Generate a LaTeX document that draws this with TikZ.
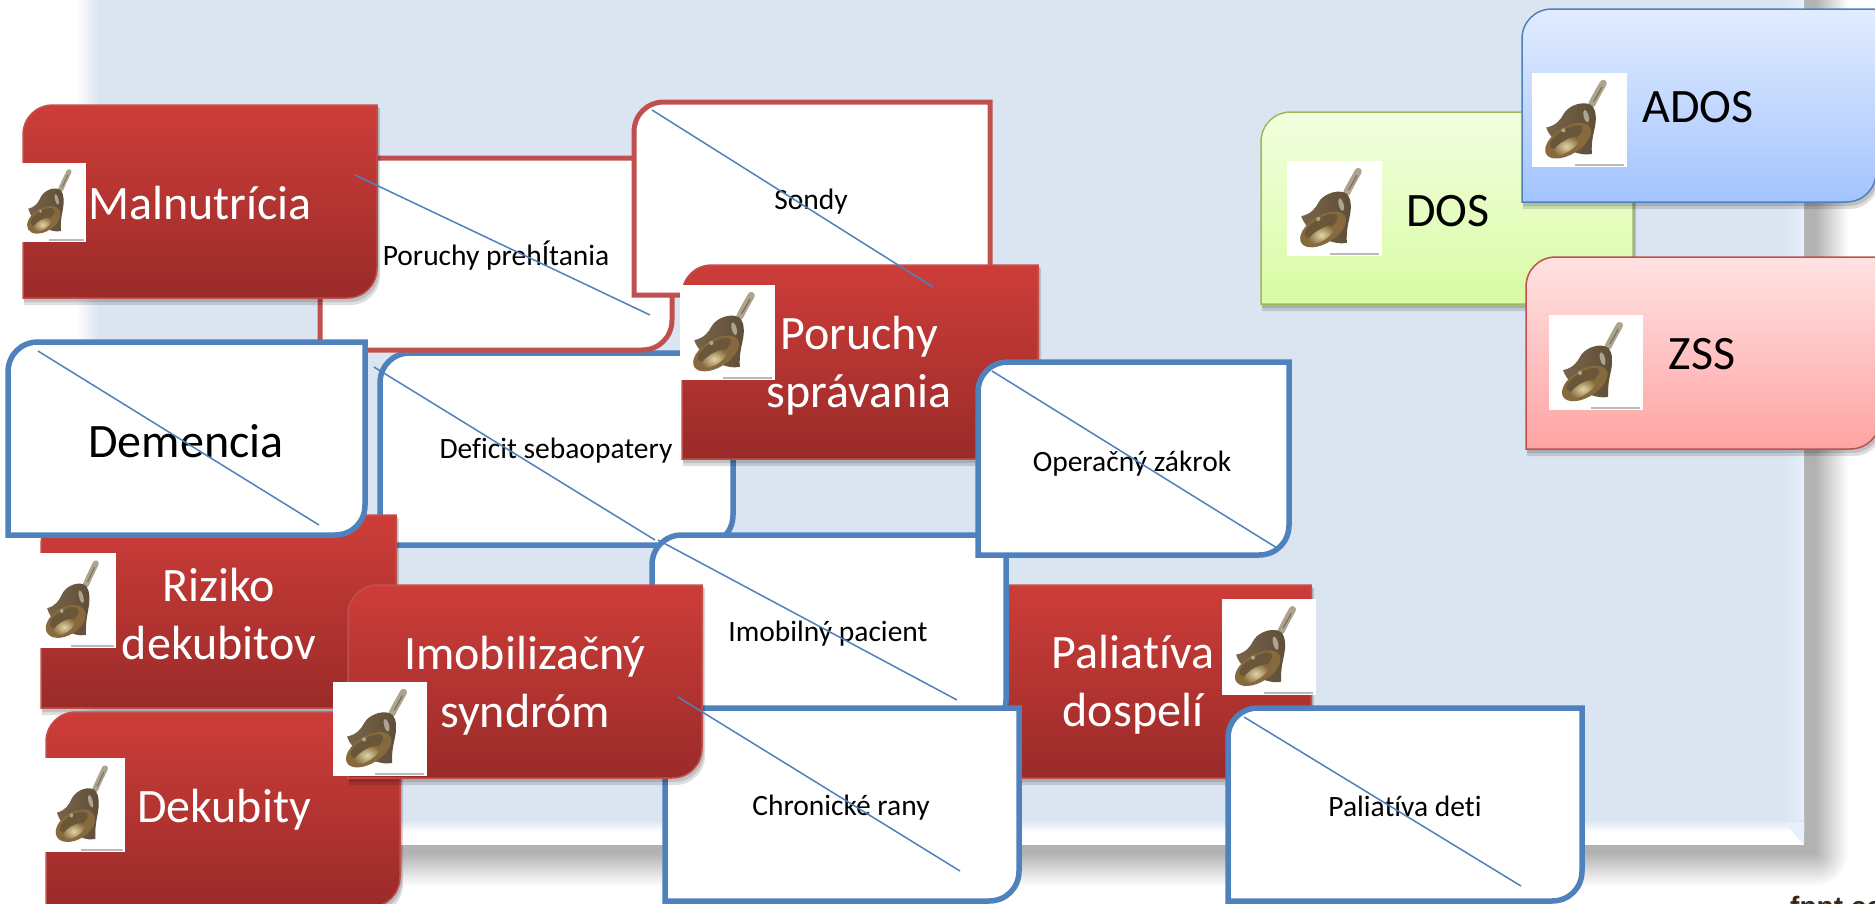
\documentclass[tikz,border=0pt]{standalone}
\usepackage{fontspec}
\setmainfont[Ligatures=NoCommon]{Carlito}
\newfontfamily\fpptfont{Liberation Sans}
\definecolor{panel}{HTML}{DBE5F1}
\definecolor{panelr}{HTML}{E6F0FC}
\definecolor{shadowg}{HTML}{B2B2B2}
\definecolor{blueline}{HTML}{4F81BD}
\definecolor{redline}{HTML}{C0504D}
\definecolor{greenline}{HTML}{9BBB59}
\definecolor{redtop}{HTML}{CD3D39}
\definecolor{redmid}{HTML}{B53533}
\definecolor{redbot}{HTML}{9A2B29}
\definecolor{green1}{HTML}{F3FFDF}
\definecolor{green2}{HTML}{D8FBA3}
\definecolor{blue1}{HTML}{E2ECFF}
\definecolor{blue2}{HTML}{A3C4FF}
\definecolor{pink1}{HTML}{FFE2E2}
\definecolor{pink2}{HTML}{FFA3A3}
\definecolor{bellbody}{HTML}{78644A}
\definecolor{belldark}{HTML}{5E4E38}
\definecolor{bellmouth}{HTML}{86693C}
\definecolor{bellgold}{HTML}{E2D5A6}
\definecolor{bellhandle}{HTML}{ADA48F}
\pgfdeclareradialshading{cornerfade}{\pgfpoint{0bp}{0bp}}{color(0bp)=(shadowg); color(25bp)=(white); color(50bp)=(white)}
\tikzset{
  x=1pt,y=-1pt,
  softshade/.style={fill=black,opacity=.13,draw=none},
  redbox/.style={draw=redline,line width=1.5pt,top color=redtop,middle color=redmid,bottom color=redbot},
  greenbox/.style={draw=greenline,line width=1.5pt,top color=green1,bottom color=green2},
  bluefill/.style={draw=blueline,line width=1.5pt,top color=blue1,bottom color=blue2},
  pinkfill/.style={draw=redline,line width=1.5pt,top color=pink1,bottom color=pink2},
  wredbox/.style={draw=redline,line width=5pt,fill=white},
  wbluebox/.style={draw=blueline,line width=5.5pt,fill=white},
  bigwhite/.style={text=white,font=\fontsize{48}{58}\selectfont,align=center,inner sep=0pt},
  bigblack/.style={text=black,font=\fontsize{48}{58}\selectfont,align=center,inner sep=0pt},
  smalllabel/.style={text=black,font=\fontsize{29.5}{34}\selectfont,align=center,inner sep=0pt},
  strike/.style={draw=blueline,line width=1.5pt},
}
% shape with rounded top-left and bottom-right corners
\newcommand{\diagshape}[5]{%
  \path[#1] (#2,#5) -- (#2,#3+30) .. controls (#2,#3+13) and (#2+13,#3) .. (#2+30,#3)
    -- (#4,#3) -- (#4,#5-30) .. controls (#4,#5-13) and (#4-13,#5) .. (#4-30,#5) -- cycle;}
\newcommand{\shadowbox}[5]{%
  \diagshape{softshade}{#2+1}{#3+3}{#4+3}{#5+7}%
  \diagshape{softshade}{#2+1}{#3+2}{#4+2}{#5+4}%
  \diagshape{#1}{#2}{#3}{#4}{#5}}
% bell picture in a white square: left, top, width, height
\newcommand{\bellpic}[4]{%
  \begin{scope}[shift={(#1,#2)},x=#3pt/100,y=-#4pt/100]
    \fill[white] (0,0) rectangle (100,100);
    \fill[gray!55] (45,96.5) rectangle (97,98.5);
    % handle
    \draw[line width=#3pt*0.075,draw=bellhandle,line cap=round] (75,11) .. controls (71,18) and (67,25) .. (63,33);
    \draw[line width=#3pt*0.014,draw=belldark!80!white,line cap=round] (73.5,15) .. controls (71,20) and (68,25) .. (65,30);
    % body
    \path[left color=bellbody,right color=belldark]
      (60,33) .. controls (65,34) and (68,42) .. (67,52)
      .. controls (66,62) and (62,70) .. (63,86)
      .. controls (48,90) and (20,75) .. (15,58)
      .. controls (25,56) and (30,50) .. (33,44)
      .. controls (37,36) and (50,30) .. (60,33) -- cycle;
    \fill[bellhandle,rotate around={15:(57,46)}] (57,46) ellipse [x radius=2.6,y radius=7];
    % mouth
    \fill[bellmouth,rotate around={32:(38,72)}] (38,72) ellipse [x radius=27,y radius=14.5];
    \fill[belldark!70!bellmouth,rotate around={32:(36,68)}] (36,68) ellipse [x radius=20,y radius=7.5];
    \path[inner color=bellgold,outer color=bellmouth,rotate around={32:(36,78)}] (36,78) ellipse [x radius=16,y radius=6];
    \fill[bellhandle] (33,61) circle (2.2);
  \end{scope}}
\newcommand{\crossline}[5]{%
  \coordinate (#1a) at (#2,#3);
  \coordinate (#1b) at (#4,#5);
  \draw[strike] (#1a) -- (#1b);}
\begin{document}
\begin{tikzpicture}
\useasboundingbox (0,0) rectangle (1875,903);
\clip (0,0) rectangle (1875,903);
\fill[white] (0,0) rectangle (1875,903);
% page shadow
\fill[shadowg] (90,0) rectangle (1815,853);
\shade[left color=shadowg,right color=white] (1815,0) rectangle (1848,853);
\shade[top color=shadowg,bottom color=white] (90,853) rectangle (1815,886);
\begin{scope}
  \clip (1815,853) rectangle (1850,888);
  \path[shading=cornerfade] (1815,853) circle (33);
\end{scope}
% panel
\fill[panel] (98,0) rectangle (1804,845);
\shade[left color=white,right color=panel] (76,0) rectangle (98,845);
\shade[left color=panel,right color=panelr] (1784,0) rectangle (1804,822);
\shade[top color=panel,bottom color=white] (76,820) rectangle (1804,832);
\fill[white] (76,832) rectangle (1804,845);
\fill[panelr] (1784,822) -- (1804,822) -- (1804,845) -- cycle;
% boxes on the right
\shadowbox{greenbox}{1261}{112}{1633}{304}
\shadowbox{bluefill}{1522}{9}{1876}{202}
\shadowbox{pinkfill}{1526}{257}{1880}{449}
\bellpic{1287}{161}{95}{95}
\bellpic{1532}{73}{95}{94}
\bellpic{1549}{315}{94}{95}
\node[bigblack] (dos) at (1448,211) {DOS};
\node[bigblack] (ados) at (1698,107) {ADOS};
\node[bigblack] (zss) at (1702,354) {ZSS};
% left group, back to front
\diagshape{wbluebox}{380}{353}{733}{545}
\node[smalllabel] (deficit) at (556,451) {Deficit sebaopatery};
\diagshape{wredbox}{320}{158}{672}{350}
\node[smalllabel] (preh) at (496,256) {Poruchy prehÍtania};
\shadowbox{redbox}{23}{105}{377}{298}
\bellpic{18}{163}{68}{79}
\node[bigwhite] (maln) at (200,203) {Malnutrícia};
\diagshape{wredbox}{634}{102}{990}{295}
\node[smalllabel] (sondy) at (811,202) {Sondy};
\shadowbox{redbox}{41}{515}{396}{708}
\bellpic{35}{553}{81}{95}
\node[bigwhite] (riziko) at (219,614) {Riziko\\dekubitov};
\diagshape{wbluebox}{8}{342}{365}{535}
\node[bigblack] (dem) at (186,441) {Demencia};
\shadowbox{redbox}{957}{585}{1311}{778}
\diagshape{wbluebox}{652}{535}{1006}{730}
\node[smalllabel] (imob) at (828,634) {Imobilný pacient};
\node[bigwhite] (paldos) at (1133,685) {Paliatíva\\dospelí};
\bellpic{1222}{599}{94}{96}
\diagshape{wbluebox}{665}{708}{1019}{901}
\node[smalllabel] (chron) at (841,808) {Chronické rany};
\shadowbox{redbox}{46}{712}{400}{907}
\bellpic{45}{758}{80}{94}
\node[bigwhite] (dek) at (224,810) {Dekubity};
\shadowbox{redbox}{348}{585}{702}{778}
\bellpic{333}{682}{94}{94}
\node[bigwhite] (imobs) at (525,686) {Imobilizačný\\syndróm};
\shadowbox{redbox}{682}{265}{1038}{459}
\bellpic{680}{285}{95}{95}
\node[bigwhite] (pors) at (859,366) {Poruchy\\správania};
\diagshape{wbluebox}{978}{362}{1289}{555}
\node[smalllabel] (oper) at (1132,464) {Operačný zákrok};
\diagshape{wbluebox}{1228}{708}{1582}{901}
\node[smalllabel] (paldet) at (1405,806) {Paliatíva deti};
% strike-through lines
\crossline{sa}{355}{175}{650}{315}
\crossline{sb}{652}{110}{933}{287}
\crossline{sc}{38}{351}{319}{525}
\crossline{sd}{374}{367}{655}{540}
\crossline{se}{992}{371}{1277}{548}
\crossline{sf}{658}{540}{957}{700}
\crossline{sg}{678}{697}{960}{871}
\crossline{sh}{1244}{717}{1521}{886}
\node[anchor=base west,inner sep=0pt,text=black!70!brown,font=\fpptfont\bfseries\fontsize{28}{30}\selectfont] (fppt) at (1790,916) {fppt.com};
\end{tikzpicture}
\end{document}
